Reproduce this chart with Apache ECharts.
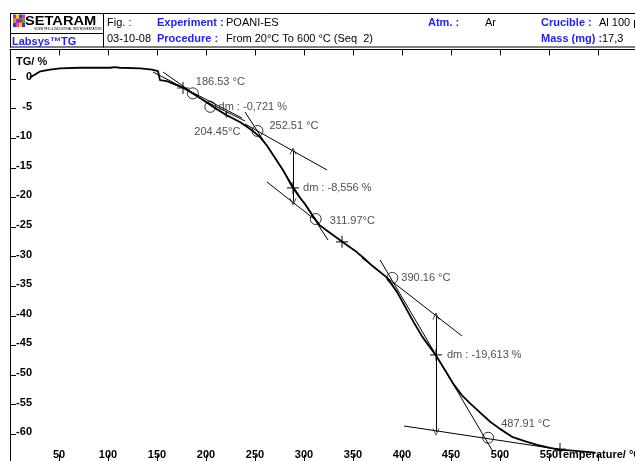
<!DOCTYPE html>
<html>
<head>
<meta charset="utf-8">
<script src="https://cdn.jsdelivr.net/npm/echarts@6/dist/echarts.min.js"></script>
<style>
  html, body { margin: 0; padding: 0; background: #fff; }
  #chart { width: 635px; height: 461px; }
</style>
</head>
<body>
<div id="chart"></div>
<script>
// TG curve (temperature in °C, mass change in %)
const tempC = [20, 26, 31, 41, 51, 71, 92, 102, 107, 112, 133, 145, 151, 153, 160, 177, 189, 197, 209, 221, 235, 248, 255, 262, 270, 279, 288, 296, 301, 309, 316, 325, 339, 352, 360, 370, 385, 395, 405, 413, 421, 435, 444, 452, 461, 469, 480, 490, 500, 513, 526, 538, 551, 561, 577, 597];
const tgPct = [0.2, 0.8, 1.3, 1.6, 1.8, 1.9, 1.9, 1.9, 2.0, 1.9, 1.8, 1.6, 1.35, -0.2, -0.35, -1.5, -2.7, -3.55, -4.9, -6.1, -7.3, -8.8, -9.8, -11.2, -13.2, -15.5, -18.2, -20.1, -21.1, -23.1, -24.7, -25.8, -27.5, -29.0, -30.1, -31.6, -33.6, -36.0, -39.0, -41.4, -43.6, -46.8, -49.2, -51.4, -53.4, -54.7, -56.4, -57.9, -59.1, -60.5, -61.2, -61.8, -62.3, -62.6, -62.8, -63.1];

// Onset / endset points found by tangent construction
const onsetTemps = [186.53, 204.45, 252.51, 311.97, 390.16, 487.91];
const onsetTg    = [-2.42, -4.7, -8.78, -23.65, -33.6, -60.6];

// Tangent segments: [T1, tg1, T2, tg2]
const tangents = [
  [145.9, 1.18, 236.7, -6.59],
  [156.1, 1.18, 193.9, -3.21],
  [196.9, -3.55, 239.8, -7.09],
  [239.8, -7.60, 323.5, -15.37],
  [239.8, -5.57, 324.5, -27.20],
  [262.2, -17.40, 314.3, -24.16],
  [359.2, -30.24, 461.2, -43.41],
  [377.6, -30.57, 491.8, -62.67],
  [402.0, -58.61, 564.3, -62.67]
];

// Mass-loss steps: arrow temperature, upper tangent value, dm, inflection value
const stepTemps   = [221.0, 288.8, 434.7];
const stepTop     = [-5.6, -12.16, -40.03];
const stepDm      = [-0.721, -8.556, -19.613];
const stepMid     = [-5.9, -18.4, -46.6];
const stepLabels  = ['dm : -0,721 %', 'dm : -8,556 %', 'dm : -19,613 %'];

// Other reference marks on the curve
const markTemps = [176.5, 338.8, 561.2];
const markTg    = [-1.52, -27.5, -62.5];

// Axis tick labels
const xTickLabels = [50, 100, 150, 200, 250, 300, 350, 400, 450, 500, 550];
const yTickLabels = [0, -5, -10, -15, -20, -25, -30, -35, -40, -45, -50, -55, -60];

const FONT = "'Liberation Sans', Arial, Helvetica, sans-serif";
const BLUE = '#2525e4';
const PLUS = 'path://M4.5,0h1v4.5h4.5v1h-4.5v4.5h-1v-4.5h-4.5v-1h4.5z';
const CHEVRON = 'path://M5,0L10,10L9,10L5,2L1,10L0,10Z';

// label offsets for onset annotations, relative to the circle box
const onsetLabelPos = [[9, -5], [-10, 31], [18, 1], [20, 8], [15, 6], [19, -8]];
const stepLabelPos = [[-8, -7], [16, 6], [17, 6]];

const chart = echarts.init(document.getElementById('chart'), null, { renderer: 'canvas' });

const series = [];

series.push({
  type: 'line',
  name: 'TG',
  data: tempC.map((t, i) => [t, tgPct[i]]),
  showSymbol: false,
  symbol: 'none',
  lineStyle: { color: '#000', width: 1.8 },
  z: 5,
  animation: false
});

tangents.forEach((s) => {
  series.push({
    type: 'line',
    data: [[s[0], s[1]], [s[2], s[3]]],
    showSymbol: false,
    symbol: 'none',
    lineStyle: { color: '#000', width: 1 },
    z: 4,
    animation: false
  });
});

// dm arrows as mark lines with open heads
series.push({
  type: 'line',
  data: [],
  markLine: {
    silent: true,
    animation: false,
    symbol: [CHEVRON, CHEVRON],
    lineStyle: { color: '#000', width: 1, type: 'solid' },
    label: { show: false },
    data: stepTemps.map((t, i) => {
      const sz = i === 0 ? [4, 3] : [7, 7];
      return [
        { coord: [t, stepTop[i]], symbolSize: sz },
        { coord: [t, stepTop[i] + stepDm[i]], symbolSize: sz }
      ];
    })
  }
});

// inflection ticks with dm labels
series.push({
  type: 'scatter',
  data: stepTemps.map((t, i) => ({
    value: [t, stepMid[i]],
    symbolSize: i === 0 ? 0.1 : 12,
    label: {
      show: true,
      formatter: stepLabels[i],
      position: stepLabelPos[i],
      align: 'left',
      verticalAlign: 'middle',
      color: '#222',
      fontFamily: FONT,
      fontSize: 11
    }
  })),
  symbol: PLUS,
  itemStyle: { color: '#000' },
  z: 6,
  animation: false
});

// onset circles with temperature labels
series.push({
  type: 'scatter',
  data: onsetTemps.map((t, i) => ({
    value: [t, onsetTg[i]],
    label: {
      show: true,
      formatter: t.toFixed(2) + (i === 1 || i === 3 ? '°C' : ' °C'),
      position: onsetLabelPos[i],
      align: 'left',
      verticalAlign: 'middle',
      color: '#222',
      fontFamily: FONT,
      fontSize: 11
    }
  })),
  symbol: 'circle',
  symbolSize: 11,
  itemStyle: { color: 'rgba(0,0,0,0)', borderColor: '#000', borderWidth: 1 },
  z: 6,
  animation: false
});

// crosses
series.push({
  type: 'scatter',
  data: markTemps.map((t, i) => [t, markTg[i]]),
  symbol: PLUS,
  symbolSize: 12,
  itemStyle: { color: '#000' },
  z: 6,
  animation: false
});

function txt(x, y, text, opts) {
  opts = opts || {};
  return {
    type: 'text',
    x: x, y: y,
    scaleX: opts.scaleX || 1,
    silent: true,
    z: 100,
    style: {
      x: 0, y: 0,
      text: text,
      font: (opts.bold ? 'bold ' : '') + (opts.size || 11) + 'px ' + FONT,
      fill: opts.color || '#000',
      align: 'left', textAlign: 'left',
      verticalAlign: 'middle', textVerticalAlign: 'middle'
    }
  };
}
function ln(x1, y1, x2, y2, w) {
  return {
    type: 'line', silent: true, z: 100,
    shape: { x1: x1, y1: y1, x2: x2, y2: y2 },
    style: { stroke: '#000', lineWidth: w || 1 }
  };
}

// small logo mosaic
const logoColors = [
  '#e8262b', '#f6d21c', '#2a3fd6', '#d42fa8',
  '#f08c1a', '#8a2be2', '#e8262b', '#2fb34a',
  '#2a3fd6', '#e84a8c', '#f6d21c', '#7a1fa0'
];
const logo = logoColors.map((c, i) => ({
  type: 'rect', silent: true, z: 100,
  shape: { x: 13 + (i % 4) * 3, y: 14.5 + Math.floor(i / 4) * 4.2, width: 3, height: 4.2 },
  style: { fill: c }
}));

const graphics = [
  { type: 'rect', silent: true, z: 90, shape: { x: 0, y: 0, width: 635, height: 48 }, style: { fill: '#fff' } },
  ln(10, 13.5, 635, 13.5),
  ln(10.5, 13.5, 10.5, 47.5),
  ln(103.5, 13.5, 103.5, 47.5),
  ln(10.5, 33.5, 103.5, 33.5),
  ln(10, 47, 635, 47, 1.2),
  ...logo,
  txt(25, 21.5, 'SETARAM', { bold: true, size: 12.5, scaleX: 1.17 }),
  txt(34, 29.5, 'SCIENTIFIC & INDUSTRIAL INSTRUMENTATION', { size: 3 }),
  txt(12, 41.5, 'Labsys™TG', { bold: true, color: BLUE }),
  txt(107, 23, 'Fig. :'),
  txt(107, 38.5, '03-10-08'),
  txt(157, 23, 'Experiment :', { bold: true, color: BLUE }),
  txt(226, 23, 'POANI-ES'),
  txt(157, 39, 'Procedure :', { bold: true, color: BLUE }),
  txt(226, 39, 'From 20°C To 600 °C (Seq  2)'),
  txt(428, 23, 'Atm. :', { bold: true, color: BLUE }),
  txt(485, 23, 'Ar'),
  txt(541, 23, 'Crucible :', { bold: true, color: BLUE }),
  txt(599, 23, 'Al 100 µl'),
  txt(541, 39, 'Mass (mg) :', { bold: true, color: BLUE }),
  txt(602, 39, '17,3'),
  txt(16, 62, 'TG/ %', { bold: true }),
  txt(557, 455, 'Temperature/ °C', { bold: true })
];

const option = {
  animation: false,
  backgroundColor: '#fff',
  grid: { left: 10, top: 49.4, width: 637, height: 414.4, containLabel: false, outerBoundsMode: 'none' },
  xAxis: [
    {
      type: 'value', position: 'bottom', min: 0, max: 650, interval: 50,
      axisLine: { show: true, onZero: false, lineStyle: { color: '#000', width: 1 } },
      axisTick: { show: true, inside: true, length: 9, lineStyle: { color: '#000' } },
      axisLabel: {
        show: true, inside: true, margin: 3,
        color: '#000', fontFamily: FONT, fontWeight: 'bold', fontSize: 11,
        formatter: (v) => (xTickLabels.indexOf(v) >= 0 ? String(v) : '')
      },
      splitLine: { show: false }
    },
    {
      type: 'value', position: 'top', min: 0, max: 650, interval: 50,
      axisLine: { show: true, onZero: false, lineStyle: { color: '#000', width: 1.2 } },
      axisTick: { show: true, inside: true, length: 6, lineStyle: { color: '#000' } },
      axisLabel: { show: false },
      splitLine: { show: false }
    }
  ],
  yAxis: {
    type: 'value', min: -65, max: 5, interval: 5,
    axisLine: { show: true, onZero: false, lineStyle: { color: '#000', width: 1 } },
    axisTick: { show: true, inside: true, length: 6, lineStyle: { color: '#000' } },
    axisLabel: {
      show: true, inside: true, margin: 22, align: 'right', verticalAlign: 'bottom', lineHeight: 4,
      color: '#000', fontFamily: FONT, fontWeight: 'bold', fontSize: 11,
      formatter: (v) => (yTickLabels.indexOf(v) >= 0 ? String(v) : '')
    },
    splitLine: { show: false }
  },
  graphic: graphics,
  series: series
};

chart.setOption(option);
</script>
</body>
</html>
